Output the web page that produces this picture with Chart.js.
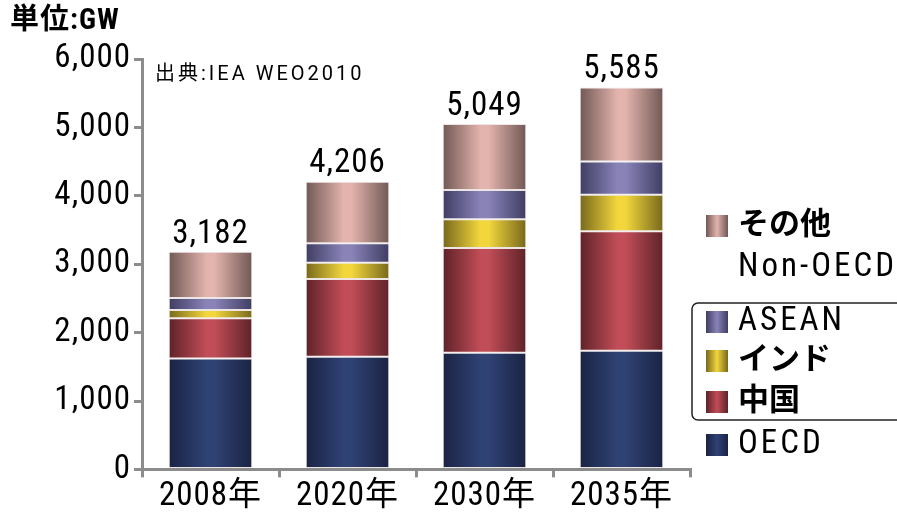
<!DOCTYPE html>
<html>
<head>
<meta charset="utf-8">
<script src="https://cdn.jsdelivr.net/npm/chart.js@4.4.1/dist/chart.umd.min.js"></script>
<style>
  html, body { margin: 0; padding: 0; background: #fff; }
  #wrap { width: 897px; height: 517px; }
</style>
</head>
<body>
<div id="wrap"><canvas id="chart" width="897" height="517"></canvas></div>
<script>
// ===============================
// Data (GW)
// ===============================
const years = ["2008年", "2020年", "2030年", "2035年"];
const oecd = [1623, 1648, 1706, 1736];
const china = [588, 1137, 1530, 1746];
const india = [118, 235, 422, 534];
const asean = [176, 285, 427, 485];
const others = [677, 901, 964, 1084];
const totals = [3182, 4206, 5049, 5585];
const yTicks = [0, 1000, 2000, 3000, 4000, 5000, 6000];

const unitText = "単位:GW";
const sourceText = "出典:IEA WEO2010";

const FONT = '"Roboto Condensed", "Noto Sans CJK JP", sans-serif';
const WIDE = 'Roboto, "Noto Sans CJK JP", sans-serif';
const BAR_PCT = 0.61;

// dark edge / light centre for the cylinder look
const colors = {
	oecd:   ["#1a2342", "#2f4274"],
	china:  ["#5e2228", "#c04d57"],
	india:  ["#77681c", "#f2d63c"],
	asean:  ["#3f3d62", "#8983b8"],
	others: ["#705854", "#e3b3ad"]
};

function barGradient(pair) {
	return (ctx) => {
		const chart = ctx.chart;
		const xs = chart.scales.x;
		if (!xs || !xs.width || ctx.dataIndex === undefined) return pair[1];
		const cx = xs.getPixelForValue(ctx.dataIndex);
		const half = xs.width / years.length * BAR_PCT / 2;
		const g = chart.ctx.createLinearGradient(cx - half, 0, cx + half, 0);
		g.addColorStop(0, pair[0]);
		g.addColorStop(0.45, pair[1]);
		g.addColorStop(0.55, pair[1]);
		g.addColorStop(1, pair[0]);
		return g;
	};
}

function makeSet(label, data, pair) {
	return {
		label: label,
		data: data,
		backgroundColor: barGradient(pair),
		borderColor: "rgba(235,225,225,0.9)",
		borderWidth: 1,
		borderSkipped: false
	};
}

// ===============================
// Extra text: unit, source, totals, legend
// ===============================
const legendRows = [
	{ text: "その他", pair: colors.others, y: 226 },
	{ text: "Non-OECD", y: 268 },
	{ text: "ASEAN", pair: colors.asean, y: 322 },
	{ text: "インド", pair: colors.india, y: 361 },
	{ text: "中国", pair: colors.china, y: 402 },
	{ text: "OECD", pair: colors.oecd, y: 445 }
];

const spacing = {
	id: "spacing",
	beforeLayout(chart) { chart.ctx.letterSpacing = "1px"; },
	beforeDraw(chart) { chart.ctx.letterSpacing = "1px"; }
};

const annotations = {
	id: "annotations",
	afterDraw(chart) {
		const c = chart.ctx;
		const ys = chart.scales.y;
		const xs = chart.scales.x;
		c.save();
		c.fillStyle = "#000";
		c.textBaseline = "middle";
		c.textAlign = "left";

		c.letterSpacing = "1px";
		c.font = "bold 29px " + FONT;
		c.fillText(unitText, 10, 22);

		c.letterSpacing = "3px";
		c.font = "20px " + WIDE;
		c.fillText(sourceText, 155, 75);

		// totals above bars
		c.letterSpacing = "1px";
		c.font = "33px " + FONT;
		c.textAlign = "center";
		c.textBaseline = "bottom";
		totals.forEach((t, i) => {
			c.fillText(t.toLocaleString("en-US"), xs.getPixelForValue(i), ys.getPixelForValue(t) - 1);
		});

		// legend
		c.textAlign = "left";
		c.textBaseline = "middle";
		legendRows.forEach((row) => {
			if (row.pair) {
				const g = c.createLinearGradient(706, 0, 728, 0);
				g.addColorStop(0, row.pair[0]);
				g.addColorStop(0.5, row.pair[1]);
				g.addColorStop(1, row.pair[0]);
				c.fillStyle = g;
				c.fillRect(706, row.y - 11, 22, 22);
				c.fillStyle = "#000";
			}
			const jp = /[^\x00-\x7f]/.test(row.text);
			c.letterSpacing = jp ? "0px" : "3px";
			c.font = jp ? "bold 31px " + FONT : "33px " + FONT;
			c.fillText(row.text, 738, row.y);
		});

		// rounded box round ASEAN / インド / 中国
		c.strokeStyle = "#222";
		c.lineWidth = 1.5;
		c.beginPath();
		c.moveTo(905, 303);
		c.lineTo(698, 303);
		c.arcTo(692, 303, 692, 309, 6);
		c.lineTo(692, 414);
		c.arcTo(692, 420, 698, 420, 6);
		c.lineTo(905, 420);
		c.stroke();
		c.restore();
	}
};

// ===============================
// Chart
// ===============================
const chart = new Chart(document.getElementById("chart"), {
	type: "bar",
	data: {
		labels: years,
		datasets: [
			makeSet("OECD", oecd, colors.oecd),
			makeSet("中国", china, colors.china),
			makeSet("インド", india, colors.india),
			makeSet("ASEAN", asean, colors.asean),
			makeSet("その他 Non-OECD", others, colors.others)
		]
	},
	options: {
		responsive: false,
		animation: false,
		layout: { padding: { left: 0, right: 207, top: 59, bottom: 0 } },
		datasets: { bar: { categoryPercentage: BAR_PCT, barPercentage: 1 } },
		plugins: {
			legend: { display: false },
			tooltip: { enabled: false }
		},
		scales: {
			x: {
				stacked: true,
				grid: { display: true, drawOnChartArea: false, offset: true, color: "#8c8c8c", lineWidth: 3, tickLength: 8 },
				border: { color: "#8c8c8c", width: 3 },
				ticks: { color: "#000", font: { size: 33, family: FONT }, padding: 0 }
			},
			y: {
				stacked: true,
				min: 0,
				max: 6000,
				afterBuildTicks(scale) {
					scale.ticks = yTicks.map((v) => ({ value: v }));
				},
				afterFit(scale) { scale.width = 142; },
				grid: { display: true, drawOnChartArea: false, color: "#8c8c8c", lineWidth: 3, tickLength: 8 },
				border: { color: "#8c8c8c", width: 3 },
				ticks: {
					color: "#000",
					font: { size: 33, family: FONT },
					padding: 3,
					callback: (v) => v.toLocaleString("en-US")
				}
			}
		}
	},
	plugins: [spacing, annotations]
});
</script>
</body>
</html>
